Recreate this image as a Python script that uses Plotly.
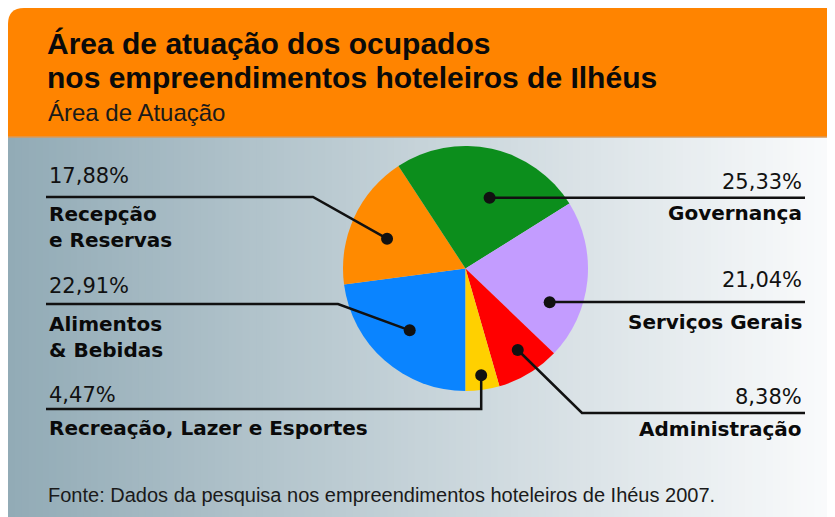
import math
import plotly.graph_objects as go

# data
areas = ["Alimentos<br>& Bebidas", "Recepção<br>e Reservas", "Governança",
         "Serviços Gerais", "Administração", "Recreação, Lazer e Esportes"]
shares = [22.91, 17.88, 25.33, 21.04, 8.38, 4.47]
share_labels = ["22,91%", "17,88%", "25,33%", "21,04%", "8,38%", "4,47%"]
colors = ["#0A84FF", "#FF8A00", "#0C8E1C", "#C39CFF", "#FF0000", "#FFD000"]

title_1 = "Área de atuação dos ocupados"
title_2 = "nos empreendimentos hoteleiros de Ilhéus"
subtitle = "Área de Atuação"
source = "Fonte: Dados da pesquisa nos empreendimentos hoteleiros de Ihéus 2007."

# the page has an 8px body margin, so the figure covers page pixels 8..835 / 8..517
OFF = 8
W, H = 835, 517
FW, FH = W - OFF, H - OFF
CX, CY, R = 465.5, 268.5, 122.5   # pie centre / radius in page pixels
START = 180                        # first slice starts at the bottom

# where the black dot sits inside each slice (fraction of span, fraction of radius)
dot_frac = [0.51, 0.44, 0.57, 0.71, 0.45, 0.48]
dot_rad = [0.68, 0.685, 0.61, 0.74, 0.79, 0.88]
# leader layout: side, line y, elbow (x or None), pct y, name y
leaders = [
    ("left", 304, 338, 286, 336.5),
    ("left", 197, 313, 176, 226.5),
    ("right", None, None, 182, 213),
    ("right", None, None, 280, 322),
    ("right", 413, 582, 397, 429),
    ("left", 409, "down", 395, 428),
]

fig = go.Figure()

# background: orange header and horizontal grey-blue -> white gradient
shapes = []
n = 120
c0, c1 = (146, 171, 182), (250, 251, 252)
for i in range(n):
    t = i / (n - 1)
    col = tuple(round(a + (b - a) * t) for a, b in zip(c0, c1))
    xa = OFF + FW * i / n
    xb = OFF + FW * (i + 1) / n + 1
    shapes.append(dict(type="rect", x0=xa, x1=xb, y0=137, y1=H,
                       fillcolor="rgb(%d,%d,%d)" % col, line_width=0, layer="below"))
shapes.append(dict(type="path",
                   path="M 8 137 L 8 24 Q 8 8 24 8 L 835 8 L 835 137 Z",
                   fillcolor="#FF8400", line_width=0, layer="below"))
shapes.append(dict(type="line", x0=OFF, x1=W, y0=137, y1=137,
                   line=dict(color="#D99A5A", width=1.5), layer="below"))

fig.add_trace(go.Pie(
    labels=areas, values=shares, sort=False, direction="clockwise", rotation=START,
    marker=dict(colors=colors, line=dict(width=0)), textinfo="none",
    hoverinfo="label+percent", showlegend=False,
    domain=dict(x=[(CX - OFF - R) / FW, (CX - OFF + R) / FW],
                y=[(H - CY - R) / FH, (H - CY + R) / FH]),
))

total = sum(shares)
ang = START
annotations = []
for i, v in enumerate(shares):
    span = v / total * 360
    a = math.radians(ang + span * dot_frac[i])
    ang += span
    dx = CX + dot_rad[i] * R * math.sin(a)
    dy = CY - dot_rad[i] * R * math.cos(a)
    side, ly, elbow, py, ny = leaders[i]
    if side == "left":
        if elbow == "down":
            pts = [(dx, dy), (dx, ly), (46, ly)]
        else:
            pts = [(dx, dy), (elbow, ly), (46, ly)]
        tx, anchor = 47, "left"
    else:
        if ly is None:
            pts = [(dx, dy), (805, dy)]
        else:
            pts = [(dx, dy), (elbow, ly), (805, ly)]
        tx, anchor = 804, "right"
    path = "M " + " L ".join("%.1f %.1f" % p for p in pts)
    shapes.append(dict(type="path", path=path, line=dict(color="#111", width=2.5),
                       layer="above"))
    shapes.append(dict(type="circle", x0=dx - 6, x1=dx + 6, y0=dy - 6, y1=dy + 6,
                       fillcolor="#111", line_width=0, layer="above"))
    annotations.append(dict(x=tx, y=py, text=share_labels[i], xanchor=anchor, yanchor="middle",
                            font=dict(family="DejaVu Sans", size=21, color="#111")))
    annotations.append(dict(x=tx, y=ny, text="<b>%s</b>" % areas[i], xanchor=anchor,
                            yanchor="middle", align=anchor,
                            font=dict(family="DejaVu Sans", size=20, color="#0a0a0a")))

for s in shapes:
    s.update(xref="x", yref="y")

annotations += [
    dict(x=45, y=43, text="<b>%s</b>" % title_1, xanchor="left", yanchor="middle",
         font=dict(family="Liberation Sans", size=30, color="#0a0a0a")),
    dict(x=45, y=77, text="<b>%s</b>" % title_2, xanchor="left", yanchor="middle",
         font=dict(family="Liberation Sans", size=30, color="#0a0a0a")),
    dict(x=46, y=112, text=subtitle, xanchor="left", yanchor="middle",
         font=dict(family="Liberation Sans", size=24, color="#1a1a1a")),
    dict(x=46, y=495, text=source, xanchor="left", yanchor="middle",
         font=dict(family="Liberation Sans", size=20, color="#1a1a1a")),
]
for an in annotations:
    an.update(xref="x", yref="y", showarrow=False)

fig.update_layout(
    width=FW, height=FH, margin=dict(l=0, r=0, t=0, b=0),
    paper_bgcolor="white", plot_bgcolor="rgba(0,0,0,0)",
    xaxis=dict(range=[OFF, W], visible=False, fixedrange=True),
    yaxis=dict(range=[H, OFF], visible=False, fixedrange=True),
    shapes=shapes, annotations=annotations,
)

fig.write_html("out.html")
